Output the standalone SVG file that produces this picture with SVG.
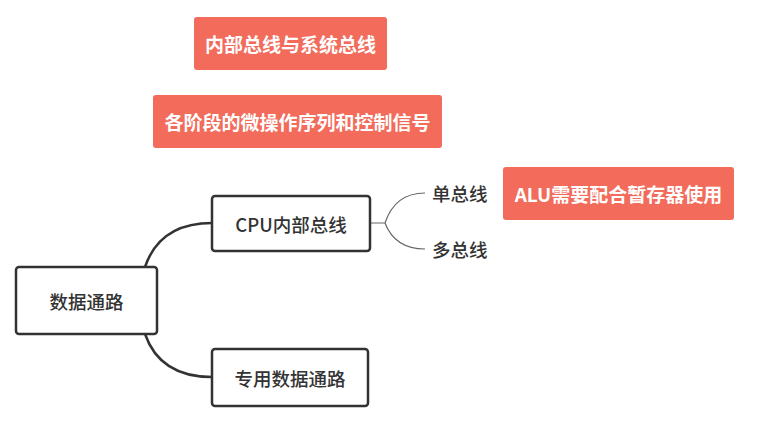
<svg xmlns="http://www.w3.org/2000/svg" width="766" height="436" viewBox="0 0 766 436">
<style>
.node{fill:#fff;stroke:#333;stroke-width:2.5}
.tag{fill:#F26B5B}
.t{font-family:"Noto Sans CJK SC","Noto Sans",sans-serif;font-size:18.5px;font-weight:500;fill:#333;dominant-baseline:central}
.tw{font-family:"Noto Sans CJK SC","Noto Sans",sans-serif;font-size:19px;font-weight:bold;fill:#fff;dominant-baseline:central;text-anchor:middle}
.c{fill:none;stroke:#333;stroke-width:2.5}
.thin{fill:none;stroke:#666;stroke-width:1.2}
</style>
<rect width="766" height="436" fill="#fff"/>
<g id="connectors">
<path class="c" d="M145 267 Q160 223 212 223"/>
<path class="c" d="M145 334 Q160 377 212 377"/>
<path class="thin" d="M370 223 H385 Q395 193 425 193"/>
<path class="thin" d="M385 223 Q395 249 425 249"/>
</g>
<g id="tag1"><rect class="tag" x="194" y="17" width="193" height="53" rx="3"/><text class="tw" x="290.5" y="43.5">内部总线与系统总线</text></g>
<g id="tag2"><rect class="tag" x="153" y="95" width="289" height="53" rx="3"/><text class="tw" x="297.5" y="121.5">各阶段的微操作序列和控制信号</text></g>
<g id="tag3"><rect class="tag" x="503" y="167" width="231" height="53" rx="3"/><text class="tw" x="618.5" y="193.5">ALU需要配合暂存器使用</text></g>
<g id="root"><rect class="node" x="16" y="267" width="141" height="67" rx="3"/><text class="t" x="86.5" y="300.5" text-anchor="middle">数据通路</text></g>
<g id="cpu"><rect class="node" x="212" y="196" width="158" height="55" rx="3"/><text class="t" x="291" y="223.5" text-anchor="middle">CPU内部总线</text></g>
<g id="dedicated"><rect class="node" x="212" y="349" width="156" height="57" rx="3"/><text class="t" x="290" y="377.5" text-anchor="middle">专用数据通路</text></g>
<g id="single"><text class="t" x="432" y="193">单总线</text></g>
<g id="multi"><text class="t" x="432" y="249">多总线</text></g>
</svg>
